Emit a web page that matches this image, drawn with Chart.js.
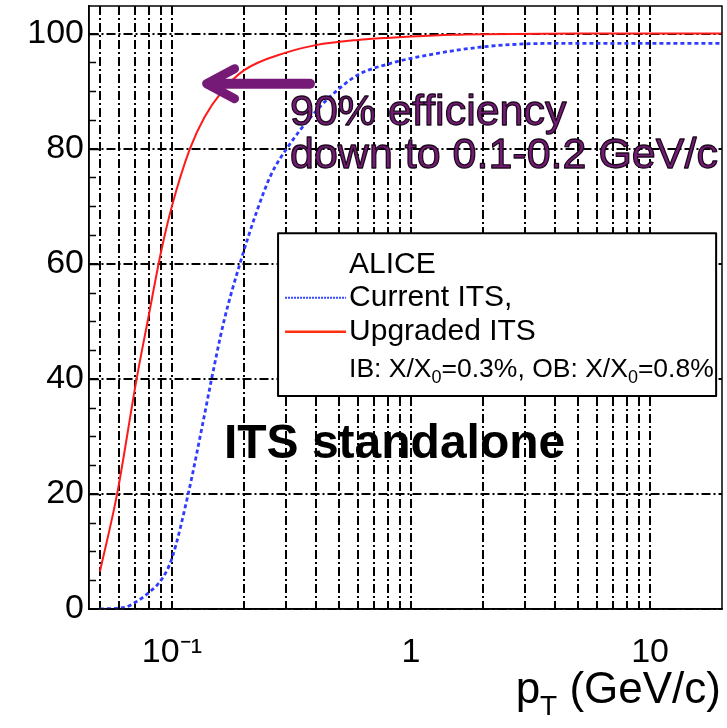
<!DOCTYPE html>
<html>
<head>
<meta charset="utf-8">
<script src="https://cdn.jsdelivr.net/npm/chart.js@4.4.1/dist/chart.umd.min.js"></script>
<style>
html, body { margin: 0; padding: 0; background: #fff; }
#wrap { width: 727px; height: 728px; }
</style>
</head>
<body>
<div id="wrap"><canvas id="effChart" width="727" height="728"></canvas></div>
<script>
// values (pT in GeV/c, efficiency in %)
const upgradedPt  = [0.05, 0.059, 0.0712, 0.08, 0.09, 0.1, 0.119, 0.137, 0.161, 0.2, 0.3, 0.4, 0.6, 0.82, 1, 1.5, 2, 5, 20];
const upgradedEff = [6.5, 20, 40, 51, 62, 70, 80, 85.5, 89.8, 93.6, 96.7, 98.0, 98.9, 99.3, 99.5, 99.8, 99.9, 100, 100];

const currentPt  = [0.05, 0.0636, 0.0712, 0.0809, 0.0911, 0.1, 0.117, 0.135, 0.1466, 0.165, 0.1925, 0.226, 0.26, 0.302, 0.404, 0.52, 0.61, 0.816, 1, 2, 3.9, 20];
const currentEff = [0, 0.3, 1.3, 3.0, 5.3, 8.8, 20, 32.5, 40, 50, 60, 69, 75.5, 80, 86.7, 91.0, 93.0, 94.8, 95.7, 97.7, 98.3, 98.3];

const xTicks = [0.05, 0.06, 0.07, 0.08, 0.09, 0.1, 0.2, 0.3, 0.4, 0.5, 0.6, 0.7, 0.8, 0.9, 1, 2, 3, 4, 5, 6, 7, 8, 9, 10];
const xLabels = { 0.1: '10⁻¹', 1: '1', 10: '10' };
const yTicks = [0, 20, 40, 60, 80, 100];
const yMinorTicks = [5, 10, 15, 20, 25, 30, 35, 40, 45, 50, 55, 60, 65, 70, 75, 80, 85, 90, 95, 100];

const FONT = "'Liberation Sans', Arial, Helvetica, sans-serif";
const PURPLE = '#761a78';
const GRID_DASH = [9, 3, 2, 3];

function toPoints(xs, ys) {
    return xs.map((v, i) => ({ x: v, y: ys[i] }));
}

// text with subscripts: parts = [[text, isSub], ...]
function drawRich(ctx, parts, x, y, size, subSize, subDrop) {
    let cx = x;
    parts.forEach(p => {
        ctx.font = (p[1] ? subSize : size) + 'px ' + FONT;
        ctx.fillText(p[0], cx, p[1] ? y + subDrop : y);
        cx += ctx.measureText(p[0]).width;
    });
    return cx;
}

function richWidth(ctx, parts, size, subSize) {
    let w = 0;
    parts.forEach(p => {
        ctx.font = (p[1] ? subSize : size) + 'px ' + FONT;
        w += ctx.measureText(p[0]).width;
    });
    return w;
}

const overlay = {
    id: 'overlay',
    afterDraw(chart) {
        const { ctx, chartArea: a, scales: { x, y } } = chart;
        ctx.save();
        ctx.setLineDash([]);

        // frame
        ctx.strokeStyle = '#000';
        ctx.lineWidth = 1.5;
        ctx.strokeRect(a.left, a.top, a.right - a.left, a.bottom - a.top);

        // small ticks on the left axis
        yMinorTicks.forEach(v => {
            const py = Math.round(y.getPixelForValue(v)) + 0.5;
            ctx.beginPath();
            ctx.moveTo(a.left, py);
            ctx.lineTo(a.left + (v % 20 ? 7 : 10), py);
            ctx.stroke();
        });

        // arrow
        const tipX = x.getPixelForValue(0.137), tailX = x.getPixelForValue(0.378);
        const ay = y.getPixelForValue(91.3);
        ctx.strokeStyle = PURPLE;
        ctx.lineCap = 'round';
        ctx.lineJoin = 'round';
        ctx.lineWidth = 10;
        ctx.beginPath();
        ctx.moveTo(tailX, ay);
        ctx.lineTo(tipX + 4, ay);
        ctx.stroke();
        ctx.lineWidth = 9;
        ctx.beginPath();
        ctx.moveTo(tipX + 30, ay - 15);
        ctx.lineTo(tipX + 2, ay);
        ctx.lineTo(tipX + 30, ay + 15);
        ctx.stroke();

        // purple note
        ctx.textBaseline = 'alphabetic';
        ctx.textAlign = 'left';
        ctx.font = '43px ' + FONT;
        ctx.fillStyle = PURPLE;
        ctx.strokeStyle = '#1a0a1a';
        ctx.lineWidth = 1.3;
        const nx = x.getPixelForValue(0.312);
        [['90% efficiency', 84.2], ['down to 0.1-0.2 GeV/c', 76.6]].forEach(l => {
            const py = y.getPixelForValue(l[1]);
            ctx.fillText(l[0], nx, py);
            ctx.strokeText(l[0], nx, py);
        });

        // ITS standalone
        ctx.fillStyle = '#000';
        ctx.font = 'bold 48px ' + FONT;
        ctx.fillText('ITS standalone', x.getPixelForValue(0.165), y.getPixelForValue(26.3));

        // legend box
        const bl = x.getPixelForValue(0.278), br = x.getPixelForValue(18.9);
        const bt = y.getPixelForValue(65.3), bb = y.getPixelForValue(37.0);
        ctx.fillStyle = '#fff';
        ctx.fillRect(bl, bt, br - bl, bb - bt);
        ctx.strokeStyle = '#000';
        ctx.lineWidth = 2;
        ctx.strokeRect(bl, bt, br - bl, bb - bt);

        const tx = bl + 71;
        ctx.fillStyle = '#000';
        ctx.font = '30px ' + FONT;
        ctx.fillText('ALICE', tx, bt + 40);
        ctx.fillText('Current ITS,', tx, bt + 73);
        ctx.fillText('Upgraded ITS', tx, bt + 107);
        drawRich(ctx, [['IB: X/X', false], ['0', true], ['=0.3%, OB: X/X', false], ['0', true], ['=0.8%', false]],
            tx, bt + 144, 26.5, 18, 6);

        ctx.lineCap = 'butt';
        ctx.strokeStyle = '#3545ff';
        ctx.lineWidth = 2;
        ctx.setLineDash([2, 1]);
        ctx.beginPath();
        ctx.moveTo(bl + 7, bt + 64.5);
        ctx.lineTo(bl + 68, bt + 64.5);
        ctx.stroke();
        ctx.setLineDash([]);
        ctx.strokeStyle = '#ff3010';
        ctx.lineWidth = 2.5;
        ctx.beginPath();
        ctx.moveTo(bl + 7, bt + 98.5);
        ctx.lineTo(bl + 68, bt + 98.5);
        ctx.stroke();

        // x axis title
        ctx.fillStyle = '#000';
        const title = [['p', false], ['T', true], [' (GeV/c)', false]];
        const tw = richWidth(ctx, title, 44, 28);
        drawRich(ctx, title, a.right - tw - 1, 703, 44, 28, 12);

        ctx.restore();
    }
};

const ctx = document.getElementById('effChart').getContext('2d');
const chart = new Chart(ctx, {
    type: 'line',
    data: {
        datasets: [
            {
                label: 'Current ITS,',
                data: toPoints(currentPt, currentEff),
                borderColor: '#2f3cff',
                borderWidth: 2.8,
                borderDash: [4, 3],
                pointRadius: 0,
                fill: false,
                cubicInterpolationMode: 'monotone'
            },
            {
                label: 'Upgraded ITS',
                data: toPoints(upgradedPt, upgradedEff),
                borderColor: '#ff1a1a',
                borderWidth: 2,
                pointRadius: 0,
                fill: false,
                cubicInterpolationMode: 'monotone'
            }
        ]
    },
    options: {
        responsive: false,
        animation: false,
        devicePixelRatio: 1,
        layout: { padding: { top: 6, right: 5, left: 0, bottom: 0 } },
        plugins: {
            legend: { display: false },
            tooltip: { enabled: false }
        },
        scales: {
            x: {
                type: 'logarithmic',
                min: 0.045,
                max: 20,
                afterBuildTicks: s => { s.ticks = xTicks.map(v => ({ value: v })); },
                afterFit: s => {
                    s.height = 119;
                    s.paddingLeft = s.paddingRight = s.paddingTop = s.paddingBottom = 0;
                },
                ticks: {
                    autoSkip: false,
                    maxRotation: 0,
                    padding: 23,
                    color: '#000',
                    font: { family: FONT, size: 34 },
                    callback: v => xLabels[v] || ''
                },
                grid: { color: '#000', lineWidth: 2, drawTicks: false },
                border: { display: true, color: '#000', width: 1.5, dash: GRID_DASH }
            },
            y: {
                min: 0,
                max: 104.8,
                afterBuildTicks: s => { s.ticks = yTicks.map(v => ({ value: v })); },
                afterFit: s => {
                    s.width = 89;
                    s.paddingLeft = s.paddingRight = s.paddingTop = s.paddingBottom = 0;
                },
                ticks: {
                    padding: 5,
                    color: '#000',
                    font: { family: FONT, size: 34 },
                    callback: v => String(v)
                },
                grid: { color: '#000', lineWidth: 2, drawTicks: false },
                border: { display: true, color: '#000', width: 1.5, dash: GRID_DASH }
            }
        }
    },
    plugins: [overlay]
});
</script>
</body>
</html>
